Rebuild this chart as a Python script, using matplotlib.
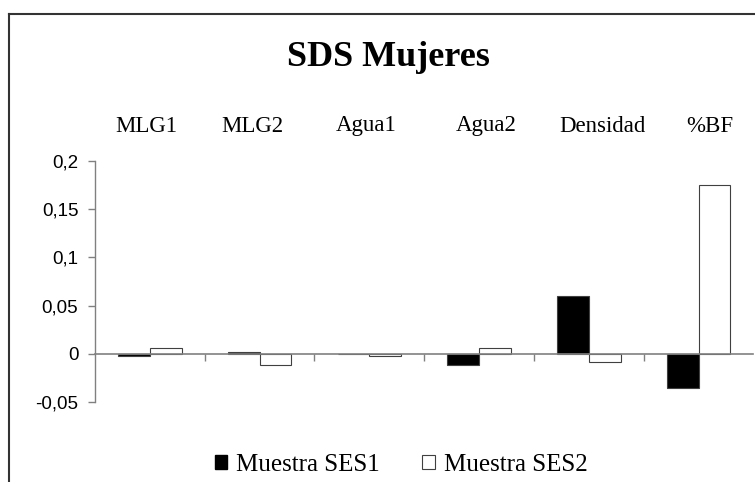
import numpy as np
import matplotlib
matplotlib.use("Agg")
import matplotlib.pyplot as plt
from matplotlib.patches import Patch
from matplotlib.lines import Line2D

# data
categories = ["MLG1", "MLG2", "Agua1", "Agua2", "Densidad", "%BF"]
ses1 = [-0.002, 0.002, 0.0, -0.012, 0.060, -0.035]
ses2 = [0.006, -0.012, -0.002, 0.006, -0.008, 0.175]
series_names = ["Muestra SES1", "Muestra SES2"]
yticks = [-0.05, 0, 0.05, 0.1, 0.15, 0.2]
ytick_labels = ["-0,05", "0", "0,05", "0,1", "0,15", "0,2"]

W, H = 755, 482
fig = plt.figure(figsize=(W / 100, H / 100), dpi=100)
ax = fig.add_axes([95 / W, 1 - 402 / H, 658.5 / W, 241 / H])

serif = "Liberation Serif"
sans = "Liberation Sans"
grey = "#808080"

x = np.arange(len(categories))
w = 0.29
ax.bar(x - w / 2, ses1, w, color="black", edgecolor="#404040", linewidth=0.8, zorder=3)
ax.bar(x + w / 2, ses2, w, color="white", edgecolor="#404040", linewidth=0.8, zorder=3)

ax.set_xlim(-0.5, len(categories) - 0.5)
ax.set_ylim(-0.05, 0.2)

# axes styling like an old Excel chart
for s in ["top", "right"]:
    ax.spines[s].set_visible(False)
ax.spines["bottom"].set_position(("data", 0))
ax.spines["bottom"].set_color(grey)
ax.spines["bottom"].set_linewidth(1.2)
ax.spines["bottom"].set_zorder(4)
ax.spines["left"].set_color(grey)
ax.spines["left"].set_linewidth(1.0)

ax.set_yticks(yticks)
ax.set_yticklabels(ytick_labels, fontfamily=sans, fontsize=13.5)
ax.tick_params(axis="y", direction="out", length=5, color=grey, width=1, pad=7)

ax.set_xticks(np.arange(len(categories) - 1) + 0.5)
ax.set_xticklabels([])
ax.tick_params(axis="x", direction="out", length=5, color=grey, width=1)

# category names sit above the plot, spread a little wider than the bars
label_x = [146, 252, 366, 486, 602, 710]
for px, c in zip(label_x, categories):
    fig.text(px / W, 1 - 126 / H, c, ha="center", va="center",
             fontfamily=serif, fontsize=16.5)

fig.text(388 / W, 1 - 58 / H, "SDS Mujeres", ha="center", va="center",
         fontfamily=serif, fontsize=26, fontweight="bold")

handles = [Patch(facecolor="black", edgecolor="black"),
           Patch(facecolor="white", edgecolor="#404040", linewidth=0.8)]
fig.legend(handles, series_names, loc="center", bbox_to_anchor=(401 / W, 1 - 465 / H),
           ncol=2, frameon=False, prop={"family": serif, "size": 18},
           handlelength=0.5, handleheight=0.5, handletextpad=0.35, columnspacing=1.7)

# chart frame (right and bottom edges cut off in the original)
fig.add_artist(Line2D([9 / W, 9 / W], [1 - 14 / H, 0], color="#333333", linewidth=1.5))
fig.add_artist(Line2D([9 / W, 1], [1 - 14 / H, 1 - 14 / H], color="#333333", linewidth=1.5))

fig.savefig("out.png", dpi=100)
